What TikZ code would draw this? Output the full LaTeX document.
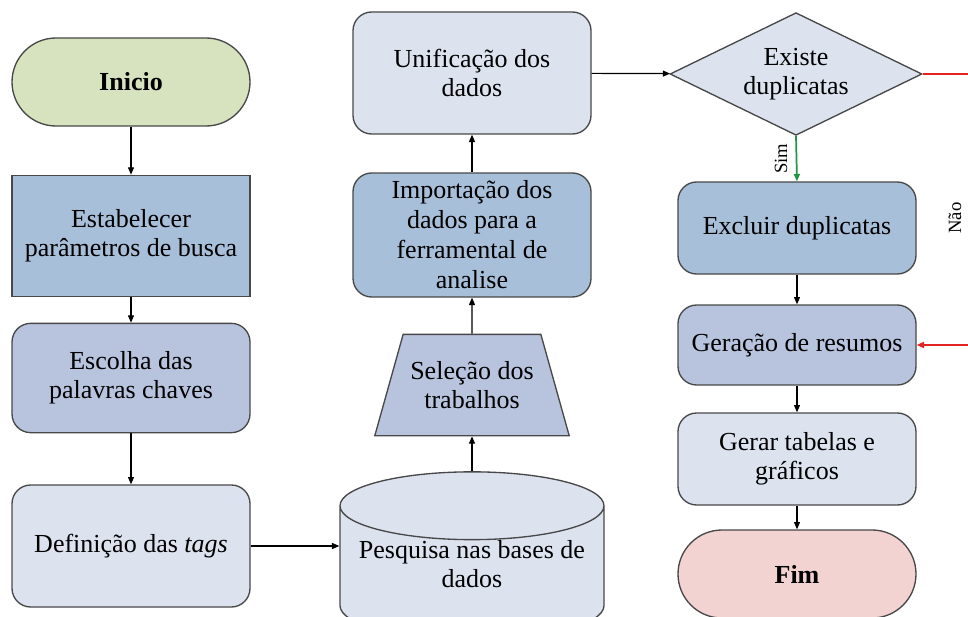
\documentclass[tikz,border=0pt]{standalone}
\usepackage{fontspec}
\setmainfont{Liberation Serif}
\usetikzlibrary{shapes.geometric,arrows.meta}
\definecolor{boxline}{RGB}{72,72,72}
\definecolor{boxlight}{RGB}{220,227,239}
\definecolor{boxmid}{RGB}{168,191,218}
\definecolor{boxlav}{RGB}{184,196,222}
\definecolor{startgreen}{RGB}{214,227,190}
\definecolor{endpink}{RGB}{243,210,210}
\definecolor{simgreen}{RGB}{30,150,70}
\definecolor{naored}{RGB}{225,35,35}

\begin{document}
\begin{tikzpicture}[x=0.75pt,y=-0.75pt,>={Triangle[length=5.5pt,width=4.5pt]},
    font=\fontsize{19.5}{21.5}\selectfont]
    \tikzstyle{block}=[draw=boxline,line width=1pt,rounded corners=14pt,align=center,
      minimum width=178.5pt,inner sep=2pt]
    \tikzstyle{terminal}=[block,rounded corners=33pt,minimum height=66pt,font=\fontsize{19.5}{21.5}\selectfont\bfseries]
    \tikzstyle{flow}=[->,line width=0.9pt]
    \tikzstyle{small}=[font=\fontsize{14}{16}\selectfont]
    \useasboundingbox (0,0) rectangle (968,617);

    % left column
    \node[terminal,fill=startgreen] (inicio) at (131,82) {Inicio};
    \node[block,fill=boxmid,rounded corners=0pt,minimum height=91pt] (param) at (131,236) {Estabelecer\\parâmetros de busca};
    \node[block,fill=boxlav,minimum height=82pt] (chaves) at (131,378) {Escolha das\\palavras chaves};
    \node[block,fill=boxlight,minimum height=91.5pt] (tags) at (131,546) {Definição das \textit{tags}};

    % middle column
    \node[cylinder,shape border rotate=90,aspect=0.3,draw=boxline,line width=1pt,fill=boxlight,
      align=center,minimum width=198pt,minimum height=98pt,inner sep=0pt,text depth=14pt] (pesquisa) at (472,573)
      {Pesquisa nas bases de\\dados};
    \node[trapezium,trapezium left angle=64,trapezium right angle=64,trapezium stretches=true,
      draw=boxline,line width=1pt,fill=boxlav,align=center,minimum width=146pt,minimum height=76pt]
      (selecao) at (472,385) {Seleção dos\\trabalhos};
    \node[block,fill=boxmid,minimum height=93pt,font=\fontsize{19.5}{22.5}\selectfont] (importa) at (472,235) {Importação dos\\dados para a\\ferramental de\\analise};
    \node[block,fill=boxlight,minimum height=91.5pt] (unifica) at (472,73) {Unificação dos\\dados};

    % right column
    \node[diamond,aspect=2.05,draw=boxline,line width=1pt,fill=boxlight,align=center,inner sep=0pt,
      minimum width=189pt,minimum height=92pt] (dup) at (796,74) {Existe\\duplicatas};
    \node[block,fill=boxmid,minimum height=69pt] (exclui) at (797,228) {Excluir duplicatas};
    \node[block,fill=boxlav,minimum height=60pt] (resumo) at (797,345) {Geração de resumos};
    \node[block,fill=boxlight,minimum height=69pt] (tabelas) at (797,459) {Gerar tabelas e\\gráficos};
    \node[terminal,fill=endpink] (fim) at (797,574) {Fim};

    \foreach \a/\b in {inicio/param,param/chaves,chaves/tags,pesquisa/selecao,
      selecao/importa,importa/unifica,unifica/dup,exclui/resumo,resumo/tabelas,tabelas/fim}
    \draw[flow] (\a) -- (\b);
    \draw[flow] (tags.east) -- (tags.east -| pesquisa.west);

    \draw[flow,line width=1.3pt,draw=simgreen] (dup.south) -- node[small,rotate=90,above=3pt,text=black] {Sim} (exclui.north);

    \coordinate (nao) at (982,74);
    \draw[flow,line width=1.3pt,draw=naored] (dup.east) -- (nao) |- (resumo.east);
    \node[small,rotate=90] (naolabel) at (955,218) {Não};
\end{tikzpicture}
\end{document}
